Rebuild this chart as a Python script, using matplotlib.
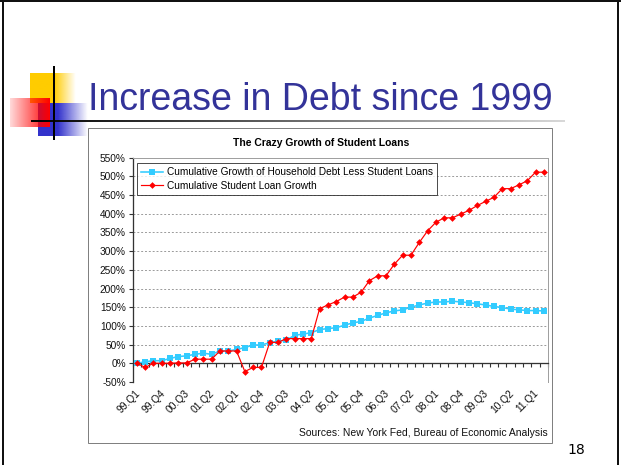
import numpy as np
import matplotlib
matplotlib.use("Agg")
import matplotlib.pyplot as plt
from matplotlib.patches import Rectangle
from matplotlib.lines import Line2D
import matplotlib.transforms as mtransforms

plt.rcParams['font.family'] = ['Liberation Sans', 'DejaVu Sans']

# ---------------- data ----------------
years = ["99", "00", "01", "02", "03", "04", "05", "06", "07", "08", "09", "10", "11"]
quarters = [f"{y}.Q{q}" for y in years for q in range(1, 5)][:50]   # 99.Q1 .. 11.Q2

household_less_student = [0, 4, 7, 7, 13, 18, 20, 24, 27, 24,
                          33, 33, 37, 42, 49, 49, 55, 59, 62, 75,
                          78, 82, 90, 93, 95, 102, 108, 112, 121, 128,
                          135, 140, 143, 150, 156, 161, 164, 164, 166, 164,
                          162, 159, 156, 152, 149, 145, 143, 141, 141, 140]
student_loans = [0, -11, 0, 0, 0, 1, 1, 11, 11, 11,
                 33, 33, 33, -22, -11, -11, 56, 56, 66, 66,
                 66, 66, 146, 156, 165, 177, 177, 190, 221, 234,
                 234, 265, 289, 289, 323, 354, 377, 389, 389, 399,
                 409, 422, 433, 444, 467, 467, 477, 488, 511, 511]

series_names = ["Cumulative Growth of Household Debt Less Student Loans",
                "Cumulative Student Loan Growth"]
y_ticks = list(range(-50, 551, 50))
label_step = 3

slide_title = "Increase in Debt since 1999"
chart_title = "The Crazy Growth of Student Loans"
source_text = "Sources: New York Fed, Bureau of Economic Analysis"
slide_number = "18"

# ---------------- figure ----------------
W, H = 621, 465
fig = plt.figure(figsize=(W / 100, H / 100), dpi=100)
fig.patch.set_facecolor("white")

bg = fig.add_axes([0, 0, 1, 1])
bg.set_xlim(0, W)
bg.set_ylim(H, 0)
bg.axis("off")
bg.set_zorder(0)

PT = 0.72  # points per pixel

# slide border
bg.plot([2.5, 2.5], [0, H], color="#111111", lw=2 * PT)
bg.plot([0, W], [1, 1], color="#111111", lw=2 * PT)
bg.plot([617.5, 617.5], [0, H], color="#111111", lw=2 * PT)


def grad_rect(x0, x1, y0, y1, rgb, alphas):
    img = np.zeros((2, len(alphas), 4))
    img[..., 0:3] = rgb
    img[..., 3] = alphas
    bg.imshow(img, extent=(x0, x1, y1, y0), aspect="auto", interpolation="bilinear", zorder=2)


n = 100
# yellow square
xs = np.linspace(30, 76, n)
grad_rect(30, 76, 74, 103, (1.0, 0.8, 0.0), np.clip((76 - xs) / (76 - 54), 0, 1))
# blue square
xs = np.linspace(38, 88, n)
grad_rect(38, 88, 103, 136, (0.2, 0.2, 0.8), np.clip((88 - xs) / (88 - 58), 0, 1))
# red square
xs = np.linspace(10, 50, n)
grad_rect(10, 50, 98, 127, (1.0, 0.0, 0.0), 0.15 + 0.85 * (xs - 10) / 40)

# underline gradient
xs = np.linspace(31, 565, 300)
img = np.zeros((2, len(xs), 4))
g = np.clip((xs - 31) / (565 - 31), 0, 1) * 0.85
img[..., 0] = g
img[..., 1] = g
img[..., 2] = g
img[..., 3] = 1
bg.imshow(img, extent=(31, 565, 122.3, 120.3), aspect="auto", zorder=3)
# vertical black line
bg.plot([54, 54], [67, 139], color="black", lw=2 * PT, zorder=4)
bg.set_xlim(0, W)
bg.set_ylim(H, 0)

# slide title
bg.text(88, 110, slide_title, color="#333399", fontsize=27, ha="left", va="baseline",
        family=["Liberation Sans", "DejaVu Sans"])

# chart frame
bg.add_patch(Rectangle((88, 128), 464, 315, fc="white", ec="#808080", lw=1 * PT, zorder=1))
bg.text(321, 143, chart_title, fontsize=7.5, fontweight="bold", ha="center", va="center")
bg.text(548, 433, source_text, fontsize=7.5, ha="right", va="center", color="#111111")
bg.text(576, 450, slide_number, fontsize=10, ha="center", va="center",
        family=["DejaVu Sans"])

# ---------------- chart axes ----------------
left, right, top, bottom = 132.7, 548, 157.6, 382
ax = fig.add_axes([left / W, 1 - bottom / H, (right - left) / W, (bottom - top) / H])
ax.set_zorder(2)
ax.set_facecolor("white")

x = np.arange(len(quarters))
ax.set_xlim(-0.5, len(quarters) - 0.5)
ax.set_ylim(y_ticks[0], y_ticks[-1])

for yv in y_ticks[1:-1]:
    if yv != 0:
        ax.axhline(yv, color="#9a9a9a", lw=0.8 * PT * 1.2, ls=(0, (2, 2)), zorder=1)
ax.axhline(y_ticks[0], color="#a0a0a0", lw=1 * PT, zorder=1)

ax.plot(x, household_less_student, color="#33CCFF", lw=1.6 * PT, marker="s",
        markersize=4.2, markeredgewidth=0, label=series_names[0], zorder=3)
ax.plot(x, student_loans, color="#FF0000", lw=1.2 * PT, marker="D",
        markersize=3.4, markeredgewidth=0, label=series_names[1], zorder=4)

for s in ["top", "right"]:
    ax.spines[s].set_color("#a0a0a0")
    ax.spines[s].set_linewidth(1 * PT)
ax.spines["left"].set_color("#333333")
ax.spines["left"].set_linewidth(1.3 * PT)
ax.spines["bottom"].set_position(("data", 0))
ax.spines["bottom"].set_color("#333333")
ax.spines["bottom"].set_linewidth(1.3 * PT)

ax.set_yticks(y_ticks)
ax.set_yticklabels([f"{v}%" for v in y_ticks], fontsize=7.3, color="#111111")
ax.tick_params(axis="y", length=3, width=0.8, color="#333333", pad=2)

ax.set_xticks(np.arange(-0.5, len(quarters), 1.0))
ax.set_xticklabels([])
ax.tick_params(axis="x", length=3, width=0.8, color="#333333", direction="out")

trans = mtransforms.blended_transform_factory(ax.transData, ax.transAxes)
off = mtransforms.ScaledTranslation(-2 / 100, -6 / 100, fig.dpi_scale_trans)
for i in range(0, len(quarters), label_step):
    ax.text(i, 0, quarters[i], transform=trans + off, rotation=45, ha="right", va="top",
            rotation_mode="anchor", fontsize=7.4, color="#111111")

handles = [Line2D([0], [0], color="#33CCFF", lw=1.6 * PT, marker="s", markersize=4.2, markeredgewidth=0),
           Line2D([0], [0], color="#FF0000", lw=1.2 * PT, marker="D", markersize=3.4, markeredgewidth=0)]
leg = ax.legend(handles, series_names, loc="upper left",
                bbox_to_anchor=(137 / W, 1 - 163 / H), bbox_transform=fig.transFigure,
                fontsize=7.3, frameon=True, fancybox=False, borderaxespad=0,
                handlelength=2.2, handletextpad=0.4, borderpad=0.4, labelspacing=0.35)
leg.get_frame().set_edgecolor("#222222")
leg.get_frame().set_linewidth(1 * PT)
leg.set_zorder(10)

fig.savefig("out.png", dpi=100)
